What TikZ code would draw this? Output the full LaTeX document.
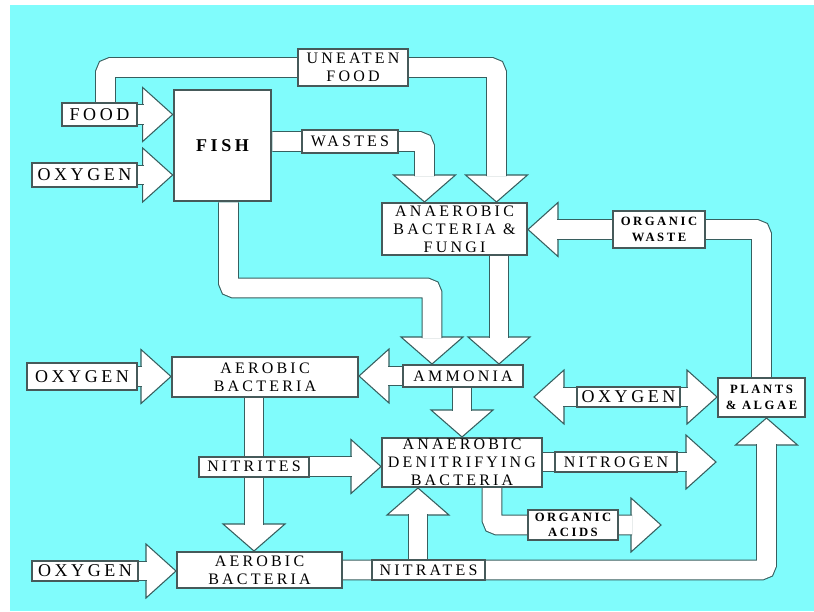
\documentclass[tikz,border=0pt]{standalone}
\usepackage{fontspec}
\usepackage{tikz}
\usetikzlibrary{calc,backgrounds}
\newfontfamily\lblfont[LetterSpace=20]{Liberation Serif}
\definecolor{aqua}{RGB}{128,252,252}
\definecolor{edgegray}{RGB}{55,95,95}
\definecolor{boxgray}{RGB}{70,90,90}
\newcommand\bigtxt{\lblfont\fontsize{13.5}{14}\selectfont}
\newcommand\midtxt{\lblfont\fontsize{12}{13.5}\selectfont}
\newcommand\smalltxt{\lblfont\bfseries\fontsize{9.5}{11.5}\selectfont}
\newcommand\fishtxt{\lblfont\bfseries\fontsize{13.5}{13.5}\selectfont}

\tikzset{
  box/.style={draw=boxgray, line width=1.5pt, fill=white, inner sep=0.5pt, align=center, font=\midtxt},
  pipe/.style={draw=white, line width=14pt, rounded corners=4pt, preaction={draw=edgegray, line width=15.6pt}},
  head/.style={draw=edgegray, line width=0.8pt, fill=white, line join=miter}
}
% fat arrow heads, tip given
\newcommand\headE[1]{\draw[head] (#1) -- ++(-30,-27) -- ++(0,54) -- cycle;}
\newcommand\headW[1]{\draw[head] (#1) -- ++(30,-27) -- ++(0,54) -- cycle;}
\newcommand\headS[1]{\draw[head] (#1) -- ++(-31,-27) -- ++(62,0) -- cycle;}
\newcommand\headN[1]{\draw[head] (#1) -- ++(-31,27) -- ++(62,0) -- cycle;}

\begin{document}
\begin{tikzpicture}[x=0.75pt,y=0.75pt,yscale=-1,xscale=1]
\useasboundingbox (0,0) rectangle (814,611);

% Text Nodes (boxes)
\draw (99.5,114.5) node [box, font=\bigtxt, minimum width=56.25pt, minimum height=17.25pt] (food) {FOOD};
\draw (84.5,175) node [box, font=\bigtxt, minimum width=78.75pt, minimum height=18pt] (oxyA) {OXYGEN};
\draw (222.5,145.5) node [box, font=\fishtxt, line width=2pt, minimum width=72.75pt, minimum height=83.25pt] (fish) {FISH};
\draw (353,67.5) node [box, minimum width=82.5pt, minimum height=27.75pt] (uneaten) {UNEATEN\\FOOD};
\draw (350,141.5) node [box, minimum width=72pt, minimum height=17.25pt] (wastes) {WASTES};
\draw (454.5,229) node [box, minimum width=108.75pt, minimum height=39pt] (anaer) {ANAEROBIC\\BACTERIA \&\\FUNGI};
\draw (659,229.5) node [box, font=\smalltxt, minimum width=69pt, minimum height=27.75pt] (orgwaste) {ORGANIC\\WASTE};
\draw (82,376.5) node [box, font=\bigtxt, minimum width=82.5pt, minimum height=20.25pt] (oxyB) {OXYGEN};
\draw (265,377) node [box, minimum width=139.5pt, minimum height=30pt] (aerA) {AEROBIC\\BACTERIA};
\draw (463,376) node [box, minimum width=90pt, minimum height=16.5pt] (ammonia) {AMMONIA};
\draw (628.5,397) node [box, font=\bigtxt, minimum width=77.25pt, minimum height=15pt] (oxyC) {OXYGEN};
\draw (761.5,397.5) node [box, font=\smalltxt, minimum width=65.25pt, minimum height=29.25pt] (plants) {PLANTS\\\& ALGAE};
\draw (254,466.5) node [box, minimum width=82.5pt, minimum height=15pt] (nitrites) {NITRITES};
\draw (462,462.5) node [box, minimum width=120pt, minimum height=36.75pt] (denit) {ANAEROBIC\\DENITRIFYING\\BACTERIA};
\draw (616,462) node [box, minimum width=91.5pt, minimum height=15pt] (nitrogen) {NITROGEN};
\draw (573,525) node [box, font=\smalltxt, minimum width=67.5pt, minimum height=22.5pt] (orgacid) {ORGANIC\\ACIDS};
\draw (85,571) node [box, font=\bigtxt, minimum width=79.5pt, minimum height=15pt] (oxyD) {OXYGEN};
\draw (259.5,570) node [box, minimum width=123.75pt, minimum height=27pt] (aerB) {AEROBIC\\BACTERIA};
\draw (428.5,570) node [box, minimum width=84.75pt, minimum height=15pt] (nitrates) {NITRATES};

% arrow tips
\coordinate (tFood) at (fish.west |- food);
\coordinate (tOxA) at (fish.west |- oxyA);
\coordinate (tUn) at ($(anaer.north)+(42,0)$);
\coordinate (tWa) at ($(anaer.north)+(-30,0)$);
\coordinate (tOW) at (anaer.east |- orgwaste);
\coordinate (tFA) at ($(ammonia.north)+(-31,0)$);
\coordinate (tAA) at ($(ammonia.north)+(36,0)$);
\coordinate (tAm) at (aerA.east |- ammonia);
\coordinate (tOxB) at (aerA.west |- oxyB);
\coordinate (tDn) at (denit.north);
\coordinate (tNi) at (nitrites |- aerB.north);
\coordinate (tNt) at (denit.west |- nitrites);
\coordinate (tOxD) at (aerB.west |- oxyD);
\coordinate (tPl) at ($(plants.south)+(5,0)$);
\coordinate (tNa) at ($(denit.south)+(-44,0)$);
\coordinate (tOxL) at ($(oxyC.west)+(-42,0)$);
\coordinate (tOxR) at (plants.west |- oxyC);
\coordinate (tN2) at ($(nitrogen.east)+(38,0)$);
\coordinate (tOA) at ($(orgacid.east)+(42,0)$);

\begin{scope}[on background layer]
%Shape: Rectangle (background)
\fill[white] (0,0) rectangle (814,611);
\fill[aqua] (10,5) rectangle (814,611);

% Heads
\headE{tFood} \headE{tOxA} \headS{tUn} \headS{tWa} \headW{tOW}
\headS{tFA} \headS{tAA} \headW{tAm} \headE{tOxB} \headS{tDn}
\headS{tNi} \headE{tNt} \headE{tOxD} \headN{tPl} \headN{tNa}
\headW{tOxL} \headE{tOxR} \headE{tN2} \headE{tOA}

% Pipes
\draw[pipe] (food) -- ($(tFood)+(-29,0)$);
\draw[pipe] (oxyA) -- ($(tOxA)+(-29,0)$);
\draw[pipe] ($(food.north)+(6,0)$) |- (uneaten) -| ($(tUn)+(0,-26)$);
\draw[pipe] (fish.east |- wastes) -- (wastes) -| ($(tWa)+(0,-26)$);
\draw[pipe] (plants) |- (orgwaste) -- ($(tOW)+(29,0)$);
\draw[pipe] ($(fish.south)+(6,0)$) |- ($(tFA)+(0,-76)$) -- ($(tFA)+(0,-26)$);
\draw[pipe] (anaer.south -| tAA) -- ($(tAA)+(0,-26)$);
\draw[pipe] (ammonia) -- ($(tAm)+(29,0)$);
\draw[pipe] (oxyB) -- ($(tOxB)+(-29,0)$);
\draw[pipe] (ammonia -| tDn) -- ($(tDn)+(0,-26)$);
\draw[pipe] (aerA.south -| tNi) -- ($(tNi)+(0,-26)$);
\draw[pipe] (nitrites) -- ($(tNt)+(-29,0)$);
\draw[pipe] (oxyD) -- ($(tOxD)+(-29,0)$);
\draw[pipe] (aerB) -| ($(tPl)+(0,26)$);
\draw[pipe] (nitrates.north -| tNa) -- ($(tNa)+(0,26)$);
\draw[pipe] ($(tOxL)+(29,0)$) -- ($(tOxR)+(-29,0)$);
\draw[pipe] (denit.east |- nitrogen) -- ($(tN2)+(-29,0)$);
\draw[pipe] ($(denit.south)+(30,0)$) |- ($(tOA)+(-29,0)$);
\end{scope}

\end{tikzpicture}
\end{document}
